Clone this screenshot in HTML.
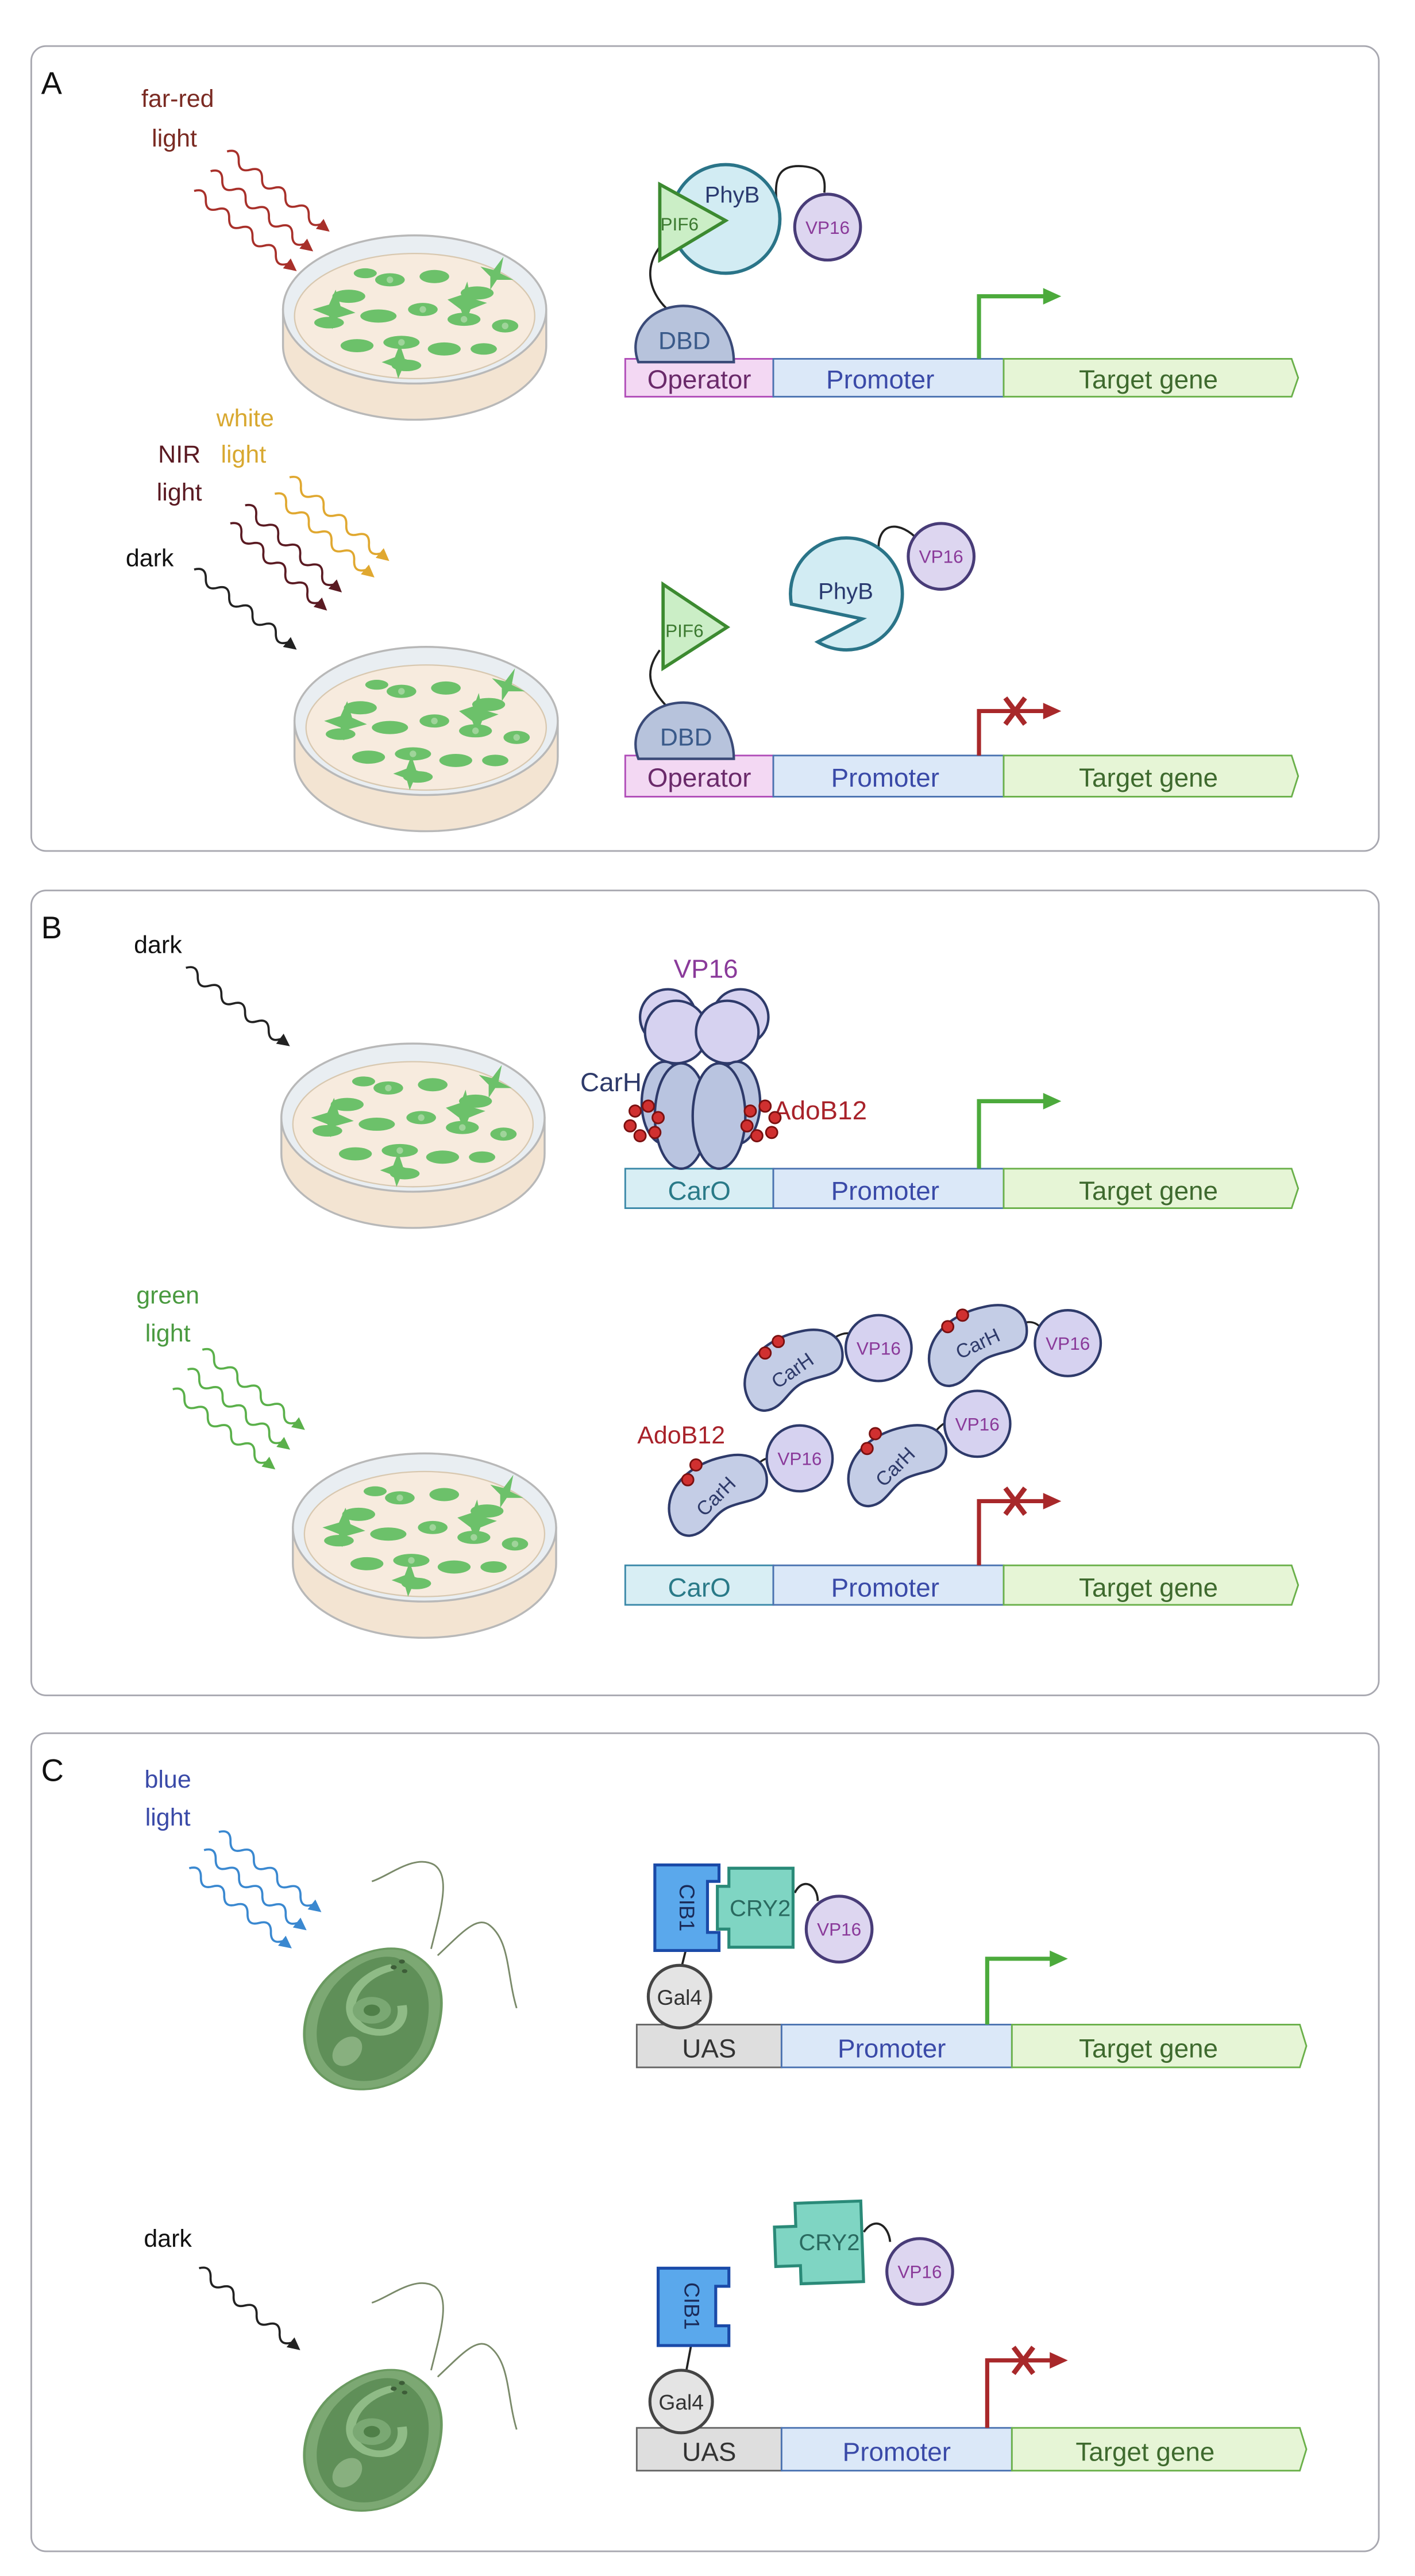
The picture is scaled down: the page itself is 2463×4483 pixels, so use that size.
<!DOCTYPE html>
<html><head><meta charset="utf-8"><style>
html,body{margin:0;padding:0;background:#fff}
svg{display:block}
text{font-family:"Liberation Sans Narrow","Liberation Sans",sans-serif}
</style></head><body>
<svg width="2463" height="4483" viewBox="0 0 860 1565" preserveAspectRatio="none" xmlns="http://www.w3.org/2000/svg">
<defs>
 <g id="wave"><path d="M0,0 q4.5,-6 9,0 t9,0 t9,0 t9,0 t9,0 t9,0 t9,0 t9,0" fill="none" stroke-width="1.3"/></g>
 <g id="dish">
  <path d="M-80,0 L-80,22 A80,45 0 0 0 80,22 L80,0 Z" fill="#f3e4d2" stroke="#b8b8b8" stroke-width="1.2"/>
  <ellipse cx="0" cy="0" rx="80" ry="45" fill="#e9eef2" stroke="#b8b8b8" stroke-width="1.2"/>
  <ellipse cx="0" cy="4" rx="73" ry="38" fill="#f7ebde" stroke="#d8c8b0" stroke-width="0.8"/>
  <g fill="#6cc16a">
   <ellipse cx="-40" cy="-8" rx="10" ry="4"/><ellipse cx="-15" cy="-18" rx="9" ry="4"/><ellipse cx="12" cy="-20" rx="9" ry="4"/>
   <ellipse cx="38" cy="-10" rx="10" ry="4"/><ellipse cx="-52" cy="8" rx="9" ry="3.5"/><ellipse cx="-22" cy="4" rx="11" ry="4"/>
   <ellipse cx="5" cy="0" rx="9" ry="4"/><ellipse cx="30" cy="6" rx="10" ry="4"/><ellipse cx="55" cy="10" rx="8" ry="4"/>
   <ellipse cx="-35" cy="22" rx="10" ry="4"/><ellipse cx="-8" cy="20" rx="11" ry="4"/><ellipse cx="18" cy="24" rx="10" ry="4"/>
   <ellipse cx="42" cy="24" rx="8" ry="3.5"/><ellipse cx="-5" cy="34" rx="9" ry="3.5"/><ellipse cx="-30" cy="-22" rx="7" ry="3"/>
   <polygon points="-62,0 -52,-3 -48,-12 -45,-2 -36,2 -47,5 -50,12 -52,4"/>
   <polygon points="20,-6 29,-9 32,-17 34,-7 44,-4 34,0 31,8 28,0"/>
   <polygon points="-20,32 -12,29 -9,21 -6,30 3,33 -7,35 -10,42 -12,35"/>
   <polygon points="40,-26 48,-24 54,-32 52,-22 60,-18 50,-18 46,-12 46,-20"/>
  </g>
  <g fill="#9fd49a"><circle cx="-15" cy="-18" r="2"/><circle cx="5" cy="0" r="2"/><circle cx="-8" cy="20" r="2"/><circle cx="30" cy="6" r="2"/><circle cx="55" cy="10" r="2"/></g>
 </g>
 <g id="cellbody">
  <path d="M24,-78 C55,-60 55,-20 45,20 C35,60 -5,80 -30,60 C-55,40 -55,-10 -35,-45 C-20,-70 5,-85 24,-78 Z" fill="#7ca873" stroke="#6a9a60" stroke-width="2"/>
  <path d="M18,-70 C45,-55 45,-15 37,18 C28,52 -3,70 -25,52 C-45,35 -45,-8 -28,-40 C-15,-62 3,-75 18,-70 Z" fill="#5f8f58"/>
  <path d="M15,-60 C-15,-50 -25,-10 -5,5 C12,15 25,0 22,-20" fill="none" stroke="#8fbb86" stroke-width="7"/>
  <circle cx="0" cy="-15" r="14" fill="#7aa873"/><circle cx="0" cy="-15" r="6" fill="#4f7f48"/>
  <ellipse cx="-18" cy="28" rx="10" ry="16" fill="#88b07f" transform="rotate(20,-18,28)"/>
  <circle cx="22" cy="-66" r="2.2" fill="#3d5d38"/><circle cx="16" cy="-60" r="2.2" fill="#3d5d38"/><circle cx="24" cy="-56" r="2" fill="#3d5d38"/>
 </g>
 <g id="bean"><path d="M-28,18 C-34,2 -20,-16 4,-21 C20,-25 31,-18 30,-5 C29,7 16,5 6,10 C-4,15 -6,26 -17,27 C-23,27 -26,23 -28,18 Z" fill="#c4cde6" stroke="#2e3a6a" stroke-width="1.5"/></g>
</defs>

<!-- Panel A -->
<rect x="19" y="28" width="819" height="489" rx="9" fill="#fff" stroke="#a8a8b0" stroke-width="1"/>
<text x="25" y="57" font-size="19" fill="#111">A</text>
<text x="108" y="65" font-size="15" fill="#7a2a22" text-anchor="middle">far-red</text>
<text x="106" y="89" font-size="15" fill="#7a2a22" text-anchor="middle">light</text>
<g stroke="#a8302a" fill="#a8302a">
 <g transform="translate(138,92) rotate(38)"><use href="#wave"/><polygon points="72,-3 78,0 72,3"/></g>
 <g transform="translate(128,104) rotate(38)"><use href="#wave"/><polygon points="72,-3 78,0 72,3"/></g>
 <g transform="translate(118,116) rotate(38)"><use href="#wave"/><polygon points="72,-3 78,0 72,3"/></g>
</g>
<use href="#dish" transform="translate(252,188)"/>

<rect x="380" y="218" width="90" height="23" fill="#f3d8f3" stroke="#b04cb8" stroke-width="1"/>
<rect x="470" y="218" width="140" height="23" fill="#dbe8f8" stroke="#4a72b0" stroke-width="1"/>
<path d="M610,218 H785 L789,229.5 L785,241 H610 Z" fill="#e6f5d6" stroke="#6ab04a" stroke-width="1"/>
<text x="425" y="236" font-size="16" fill="#6a2a6a" text-anchor="middle">Operator</text>
<text x="535" y="236" font-size="16" fill="#3a4aa8" text-anchor="middle">Promoter</text>
<text x="698" y="236" font-size="16" fill="#3e6a2e" text-anchor="middle">Target gene</text>
<path d="M595,218 V180 H636" fill="none" stroke="#4caa3c" stroke-width="2.5"/><polygon points="634,175 645,180 634,185" fill="#4caa3c"/>
<path d="M401,150 C390,165 396,180 408,190" fill="none" stroke="#222" stroke-width="1.3"/>
<path d="M388,220 C382,205 392,188 412,186 C432,184 446,200 446,220 Z" fill="#b7c3dc" stroke="#3a4a78" stroke-width="1.5"/>
<text x="416" y="212" font-size="15" fill="#3a5a8a" text-anchor="middle">DBD</text>
<path d="M472,122 C470,105 476,100 488,101 C500,102 502,108 501,117" fill="none" stroke="#222" stroke-width="1.3"/>
<circle cx="441" cy="133" r="33" fill="#d2ecf3" stroke="#2a7488" stroke-width="2"/>
<polygon points="401,112 401,158 441,134" fill="#cbeec6" stroke="#3c8a30" stroke-width="2"/>
<text x="445" y="123" font-size="14" fill="#2a3a70" text-anchor="middle">PhyB</text>
<text x="413" y="140" font-size="11" fill="#3c7a30" text-anchor="middle">PIF6</text>
<circle cx="503" cy="138" r="20" fill="#ddd6f0" stroke="#483c78" stroke-width="1.8"/>
<text x="503" y="142" font-size="11" fill="#8a3a9a" text-anchor="middle">VP16</text>

<text x="149" y="259" font-size="15" fill="#d8a830" text-anchor="middle">white</text>
<text x="148" y="281" font-size="15" fill="#d8a830" text-anchor="middle">light</text>
<text x="109" y="281" font-size="15" fill="#5a1a22" text-anchor="middle">NIR</text>
<text x="109" y="304" font-size="15" fill="#5a1a22" text-anchor="middle">light</text>
<text x="91" y="344" font-size="15" fill="#111" text-anchor="middle">dark</text>
<g stroke="#e0a830" fill="#e0a830">
 <g transform="translate(176,290) rotate(40)"><use href="#wave"/><polygon points="72,-3 78,0 72,3"/></g>
 <g transform="translate(167,300) rotate(40)"><use href="#wave"/><polygon points="72,-3 78,0 72,3"/></g>
</g>
<g stroke="#5a1a22" fill="#5a1a22">
 <g transform="translate(149,307) rotate(42)"><use href="#wave"/><polygon points="72,-3 78,0 72,3"/></g>
 <g transform="translate(140,318) rotate(42)"><use href="#wave"/><polygon points="72,-3 78,0 72,3"/></g>
</g>
<g stroke="#222" fill="#222"><g transform="translate(118,346) rotate(38)"><use href="#wave"/><polygon points="72,-3 78,0 72,3"/></g></g>
<use href="#dish" transform="translate(259,438)"/>

<rect x="380" y="459" width="90" height="25" fill="#f3d8f3" stroke="#b04cb8" stroke-width="1"/>
<rect x="470" y="459" width="140" height="25" fill="#dbe8f8" stroke="#4a72b0" stroke-width="1"/>
<path d="M610,459 H785 L789,471.5 L785,484 H610 Z" fill="#e6f5d6" stroke="#6ab04a" stroke-width="1"/>
<text x="425" y="478" font-size="16" fill="#6a2a6a" text-anchor="middle">Operator</text>
<text x="538" y="478" font-size="16" fill="#3a4aa8" text-anchor="middle">Promoter</text>
<text x="698" y="478" font-size="16" fill="#3e6a2e" text-anchor="middle">Target gene</text>
<path d="M595,459 V432 H636" fill="none" stroke="#a8282a" stroke-width="2.5"/><polygon points="634,427 645,432 634,437" fill="#a8282a"/>
<path d="M611,424 L623,440 M623,424 L611,440" stroke="#a8282a" stroke-width="3"/>
<path d="M401,395 C390,410 396,420 408,432" fill="none" stroke="#222" stroke-width="1.3"/>
<path d="M388,461 C382,446 392,429 412,427 C432,425 446,441 446,461 Z" fill="#b7c3dc" stroke="#3a4a78" stroke-width="1.5"/>
<text x="417" y="453" font-size="15" fill="#3a5a8a" text-anchor="middle">DBD</text>
<polygon points="403,355 403,406 442,381" fill="#cbeec6" stroke="#3c8a30" stroke-width="2"/>
<text x="416" y="387" font-size="11" fill="#3c7a30" text-anchor="middle">PIF6</text>
<path d="M534,335 C533,318 545,316 556,326" fill="none" stroke="#222" stroke-width="1.3"/>
<path d="M481,367 A34,34 0 1 1 497,390 L524,376 Z" fill="#d2ecf3" stroke="#2a7488" stroke-width="2"/>
<text x="514" y="364" font-size="14" fill="#2a3a70" text-anchor="middle">PhyB</text>
<circle cx="572" cy="338" r="20" fill="#ddd6f0" stroke="#483c78" stroke-width="1.8"/>
<text x="572" y="342" font-size="11" fill="#8a3a9a" text-anchor="middle">VP16</text>

<!-- Panel B -->
<rect x="19" y="541" width="819" height="489" rx="9" fill="#fff" stroke="#a8a8b0" stroke-width="1"/>
<text x="25" y="570" font-size="19" fill="#111">B</text>
<text x="96" y="579" font-size="15" fill="#111" text-anchor="middle">dark</text>
<g stroke="#222" fill="#222"><g transform="translate(113,588) rotate(37)"><use href="#wave"/><polygon points="72,-3 78,0 72,3"/></g></g>
<use href="#dish" transform="translate(251,679)"/>

<rect x="380" y="710" width="90" height="24" fill="#d8eef4" stroke="#3a88a8" stroke-width="1"/>
<rect x="470" y="710" width="140" height="24" fill="#dbe8f8" stroke="#4a72b0" stroke-width="1"/>
<path d="M610,710 H785 L789,722 L785,734 H610 Z" fill="#e6f5d6" stroke="#6ab04a" stroke-width="1"/>
<text x="425" y="729" font-size="16" fill="#2a7a88" text-anchor="middle">CarO</text>
<text x="538" y="729" font-size="16" fill="#3a4aa8" text-anchor="middle">Promoter</text>
<text x="698" y="729" font-size="16" fill="#3e6a2e" text-anchor="middle">Target gene</text>
<path d="M595,710 V669 H636" fill="none" stroke="#4caa3c" stroke-width="2.5"/><polygon points="634,664 645,669 634,674" fill="#4caa3c"/>
<text x="429" y="594" font-size="16" fill="#8a3a9a" text-anchor="middle">VP16</text>
<g stroke="#2e3a6a" stroke-width="1.2"><path d="M407,640 L402,656 M413,643 L412,656 M437,643 L440,656 M445,640 L452,656"/></g>
<g fill="#d6d2f0" stroke="#2e3a6a" stroke-width="1.5">
 <circle cx="406" cy="618" r="17"/><circle cx="450" cy="618" r="17"/>
 <circle cx="411" cy="627" r="19"/><circle cx="442" cy="627" r="19"/>
</g>
<g fill="#b9c4e0" stroke="#2e3a6a" stroke-width="1.5">
 <ellipse cx="404" cy="670" rx="14" ry="25"/><ellipse cx="448" cy="670" rx="14" ry="25"/>
 <ellipse cx="414" cy="678" rx="16" ry="32"/><ellipse cx="437" cy="678" rx="16" ry="32"/>
</g>
<text x="390" y="663" font-size="16" fill="#2e3a6a" text-anchor="end">CarH</text>
<text x="470" y="680" font-size="16" fill="#a8222a">AdoB12</text>
<g fill="#d03030" stroke="#7a1010" stroke-width="1">
 <circle cx="386" cy="675" r="3.5"/><circle cx="394" cy="672" r="3.5"/><circle cx="400" cy="679" r="3.5"/><circle cx="398" cy="688" r="3.5"/><circle cx="389" cy="690" r="3.5"/><circle cx="383" cy="684" r="3.5"/>
 <circle cx="456" cy="675" r="3.5"/><circle cx="465" cy="672" r="3.5"/><circle cx="471" cy="679" r="3.5"/><circle cx="469" cy="688" r="3.5"/><circle cx="460" cy="690" r="3.5"/><circle cx="454" cy="684" r="3.5"/>
</g>

<text x="102" y="792" font-size="15" fill="#4a9a40" text-anchor="middle">green</text>
<text x="102" y="815" font-size="15" fill="#4a9a40" text-anchor="middle">light</text>
<g stroke="#5ab04a" fill="#5ab04a">
 <g transform="translate(123,820) rotate(38)"><use href="#wave"/><polygon points="72,-3 78,0 72,3"/></g>
 <g transform="translate(114,832) rotate(38)"><use href="#wave"/><polygon points="72,-3 78,0 72,3"/></g>
 <g transform="translate(105,844) rotate(38)"><use href="#wave"/><polygon points="72,-3 78,0 72,3"/></g>
</g>
<use href="#dish" transform="translate(258,928)"/>

<rect x="380" y="951" width="90" height="24" fill="#d8eef4" stroke="#3a88a8" stroke-width="1"/>
<rect x="470" y="951" width="140" height="24" fill="#dbe8f8" stroke="#4a72b0" stroke-width="1"/>
<path d="M610,951 H785 L789,963 L785,975 H610 Z" fill="#e6f5d6" stroke="#6ab04a" stroke-width="1"/>
<text x="425" y="970" font-size="16" fill="#2a7a88" text-anchor="middle">CarO</text>
<text x="538" y="970" font-size="16" fill="#3a4aa8" text-anchor="middle">Promoter</text>
<text x="698" y="970" font-size="16" fill="#3e6a2e" text-anchor="middle">Target gene</text>
<path d="M595,951 V912 H636" fill="none" stroke="#a8282a" stroke-width="2.5"/><polygon points="634,907 645,912 634,917" fill="#a8282a"/>
<path d="M611,904 L623,920 M623,904 L611,920" stroke="#a8282a" stroke-width="3"/>
<text x="414" y="877" font-size="15" fill="#a8222a" text-anchor="middle">AdoB12</text>
<g stroke="#222" stroke-width="1.2" fill="none">
 <path d="M502,818 C508,810 516,808 520,812"/><path d="M615,808 C622,802 628,802 632,806"/>
 <path d="M458,893 C463,885 470,884 472,888"/><path d="M567,872 C572,864 578,862 582,864"/>
</g>
<use href="#bean" transform="translate(482,830)"/>
<use href="#bean" transform="translate(594,815)"/>
<use href="#bean" transform="translate(436,906)"/>
<use href="#bean" transform="translate(545,888)"/>
<g fill="#d6d2f0" stroke="#2e3a6a" stroke-width="1.5">
 <circle cx="534" cy="819" r="20"/><circle cx="649" cy="816" r="20"/><circle cx="486" cy="886" r="20"/><circle cx="594" cy="865" r="20"/>
</g>
<g font-size="11" fill="#8a3a9a" text-anchor="middle">
 <text x="534" y="823">VP16</text><text x="649" y="820">VP16</text><text x="486" y="890">VP16</text><text x="594" y="869">VP16</text>
</g>
<g font-size="12" fill="#2e3a6a" text-anchor="middle">
 <text transform="translate(484,836) rotate(-35)">CarH</text>
 <text transform="translate(596,820) rotate(-25)">CarH</text>
 <text transform="translate(438,912) rotate(-45)">CarH</text>
 <text transform="translate(547,894) rotate(-45)">CarH</text>
</g>
<g fill="#d03030" stroke="#7a1010" stroke-width="1">
 <circle cx="465" cy="822" r="3.5"/><circle cx="473" cy="815" r="3.5"/>
 <circle cx="576" cy="806" r="3.5"/><circle cx="585" cy="799" r="3.5"/>
 <circle cx="418" cy="899" r="3.5"/><circle cx="423" cy="890" r="3.5"/>
 <circle cx="527" cy="880" r="3.5"/><circle cx="532" cy="871" r="3.5"/>
</g>

<!-- Panel C -->
<rect x="19" y="1053" width="819" height="497" rx="9" fill="#fff" stroke="#a8a8b0" stroke-width="1"/>
<text x="25" y="1082" font-size="19" fill="#111">C</text>
<text x="102" y="1086" font-size="15" fill="#3a4aa8" text-anchor="middle">blue</text>
<text x="102" y="1109" font-size="15" fill="#3a4aa8" text-anchor="middle">light</text>
<g stroke="#3a88d0" fill="#3a88d0">
 <g transform="translate(133,1113) rotate(38)"><use href="#wave"/><polygon points="72,-3 78,0 72,3"/></g>
 <g transform="translate(124,1124) rotate(38)"><use href="#wave"/><polygon points="72,-3 78,0 72,3"/></g>
 <g transform="translate(115,1135) rotate(38)"><use href="#wave"/><polygon points="72,-3 78,0 72,3"/></g>
</g>
<path d="M262,1184 C268,1160 274,1140 264,1133 C252,1126 236,1140 226,1143 M266,1188 C280,1175 290,1163 298,1170 C310,1180 308,1200 314,1220" fill="none" stroke="#7a8a6a" stroke-width="1"/>
<use href="#cellbody" transform="translate(226,1230) scale(0.83,0.58)"/>

<rect x="387" y="1230" width="88" height="26" fill="#dedede" stroke="#666" stroke-width="1"/>
<rect x="475" y="1230" width="140" height="26" fill="#dbe8f8" stroke="#4a72b0" stroke-width="1"/>
<path d="M615,1230 H790 L794,1243 L790,1256 H615 Z" fill="#e6f5d6" stroke="#6ab04a" stroke-width="1"/>
<text x="431" y="1250" font-size="16" fill="#333" text-anchor="middle">UAS</text>
<text x="542" y="1250" font-size="16" fill="#3a4aa8" text-anchor="middle">Promoter</text>
<text x="698" y="1250" font-size="16" fill="#3e6a2e" text-anchor="middle">Target gene</text>
<path d="M600,1230 V1190 H640" fill="none" stroke="#4caa3c" stroke-width="2.5"/><polygon points="638,1185 649,1190 638,1195" fill="#4caa3c"/>
<path d="M417,1184 L414,1196" stroke="#222" stroke-width="1.3"/>
<path d="M483,1150 C488,1140 497,1145 497,1155" fill="none" stroke="#222" stroke-width="1.3"/>
<circle cx="413" cy="1213" r="19" fill="#e4e4e4" stroke="#444" stroke-width="1.8"/>
<text x="413" y="1218" font-size="13" fill="#333" text-anchor="middle">Gal4</text>
<path d="M398,1133 H437 V1143 H430 V1174 H437 V1185 H398 Z" fill="#5aa8ec" stroke="#1a4aa8" stroke-width="1.8"/>
<text transform="translate(413,1159) rotate(90)" font-size="13" fill="#1a2a58" text-anchor="middle">CIB1</text>
<path d="M443,1135 H482 V1183 H443 V1172 H436 V1146 H443 Z" fill="#7fd5c3" stroke="#2a8a78" stroke-width="1.8"/>
<text x="462" y="1164" font-size="14" fill="#2a6a60" text-anchor="middle">CRY2</text>
<circle cx="510" cy="1172" r="20" fill="#ddd6f0" stroke="#483c78" stroke-width="1.8"/>
<text x="510" y="1176" font-size="11" fill="#8a3a9a" text-anchor="middle">VP16</text>

<text x="102" y="1365" font-size="15" fill="#111" text-anchor="middle">dark</text>
<g stroke="#222" fill="#222"><g transform="translate(121,1378) rotate(39)"><use href="#wave"/><polygon points="72,-3 78,0 72,3"/></g></g>
<path d="M262,1440 C268,1416 274,1396 264,1389 C252,1382 236,1396 226,1399 M266,1444 C280,1431 290,1419 298,1426 C310,1436 308,1456 314,1476" fill="none" stroke="#7a8a6a" stroke-width="1"/>
<use href="#cellbody" transform="translate(226,1486) scale(0.83,0.58)"/>

<rect x="387" y="1475" width="88" height="26" fill="#dedede" stroke="#666" stroke-width="1"/>
<rect x="475" y="1475" width="140" height="26" fill="#dbe8f8" stroke="#4a72b0" stroke-width="1"/>
<path d="M615,1475 H790 L794,1488 L790,1501 H615 Z" fill="#e6f5d6" stroke="#6ab04a" stroke-width="1"/>
<text x="431" y="1495" font-size="16" fill="#333" text-anchor="middle">UAS</text>
<text x="545" y="1495" font-size="16" fill="#3a4aa8" text-anchor="middle">Promoter</text>
<text x="696" y="1495" font-size="16" fill="#3e6a2e" text-anchor="middle">Target gene</text>
<path d="M600,1475 V1434 H640" fill="none" stroke="#a8282a" stroke-width="2.5"/><polygon points="638,1429 649,1434 638,1439" fill="#a8282a"/>
<path d="M616,1426 L628,1442 M628,1426 L616,1442" stroke="#a8282a" stroke-width="3"/>
<path d="M420,1425 L417,1441" stroke="#222" stroke-width="1.3"/>
<circle cx="414" cy="1459" r="19" fill="#e4e4e4" stroke="#444" stroke-width="1.8"/>
<text x="414" y="1464" font-size="13" fill="#333" text-anchor="middle">Gal4</text>
<path d="M400,1378 H443 V1389 H435 V1413 H443 V1425 H400 Z" fill="#5aa8ec" stroke="#1a4aa8" stroke-width="1.8"/>
<text transform="translate(416,1401) rotate(90)" font-size="13" fill="#1a2a58" text-anchor="middle">CIB1</text>
<path d="M525,1356 C532,1346 540,1352 541,1362" fill="none" stroke="#222" stroke-width="1.3"/>
<path d="M484,1338 H524 V1387 H486 V1376 H471 V1352 H484 Z" fill="#7fd5c3" stroke="#2a8a78" stroke-width="1.8" transform="rotate(-2,500,1362)"/>
<text x="504" y="1367" font-size="14" fill="#2a6a60" text-anchor="middle">CRY2</text>
<circle cx="559" cy="1380" r="20" fill="#ddd6f0" stroke="#483c78" stroke-width="1.8"/>
<text x="559" y="1384" font-size="11" fill="#8a3a9a" text-anchor="middle">VP16</text>
</svg>
</body></html>
